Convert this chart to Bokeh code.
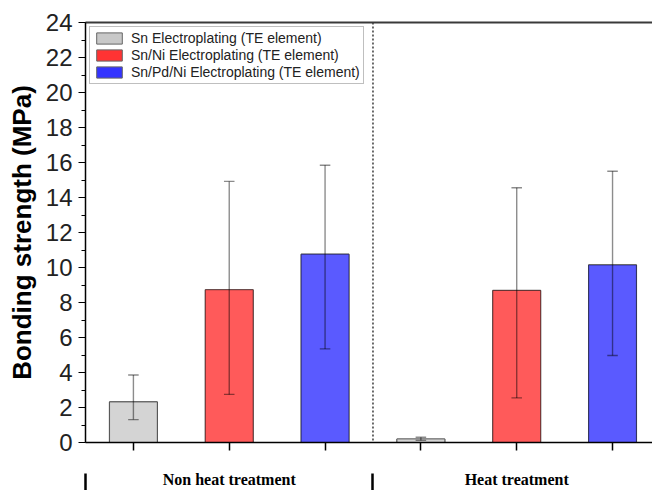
from bokeh.plotting import figure
from bokeh.models import (Range1d, LinearAxis, FixedTicker, SingleIntervalTicker,
                          Span, Legend, LegendItem, ColumnDataSource)
from bokeh.embed import file_html
from bokeh.resources import INLINE

# ---- data ----
groups = ["Non heat treatment", "Heat treatment"]
series = ["Sn Electroplating (TE element)",
          "Sn/Ni Electroplating (TE element)",
          "Sn/Pd/Ni Electroplating (TE element)"]
sn_mean = [2.32, 0.20]
sn_low = [1.31, 0.12]
sn_high = [3.86, 0.30]
snni_mean = [8.73, 8.69]
snni_low = [2.75, 2.55]
snni_high = [14.92, 14.56]
snpdni_mean = [10.76, 10.15]
snpdni_low = [5.35, 4.97]
snpdni_high = [15.84, 15.50]
y_min, y_max = 0, 24

bar_colors = ["#d4d4d4", "#ff5a5a", "#5a5aff"]
legend_colors = ["#c8c8c8", "#ff3333", "#3333ff"]

means = [sn_mean, snni_mean, snpdni_mean]
lows = [sn_low, snni_low, snpdni_low]
highs = [sn_high, snni_high, snpdni_high]

n_series = len(series)
positions = [g * n_series + s + 1 for g in range(len(groups)) for s in range(n_series)]

p = figure(width=652, height=490, output_backend="svg", toolbar_location=None,
           x_range=Range1d(0.5, 6.417), y_range=Range1d(y_min, y_max),
           x_axis_location=None, y_axis_location=None,
           min_border_left=85, min_border_top=22, min_border_right=0, min_border_bottom=0)
p.outline_line_color = None
p.background_fill_color = "white"
p.border_fill_color = "white"
for g in p.grid:
    g.visible = False

# y axis
yaxis = LinearAxis(ticker=SingleIntervalTicker(interval=2, num_minor_ticks=2),
                   axis_label="Bonding strength (MPa)",
                   axis_label_text_font="Liberation Sans",
                   axis_label_text_font_style="bold",
                   axis_label_text_font_size="26px",
                   axis_label_text_color="black",
                   axis_label_standoff=6,
                   major_label_text_font="Liberation Sans",
                   major_label_text_font_size="24px",
                   major_label_text_color="#222222",
                   major_label_standoff=6,
                   major_tick_in=0, major_tick_out=7,
                   minor_tick_in=0, minor_tick_out=4,
                   axis_line_width=1.5, axis_line_color="black",
                   major_tick_line_color="black", minor_tick_line_color="black")
p.add_layout(yaxis, "left")

# top border line
top = LinearAxis(ticker=FixedTicker(ticks=[]), axis_line_color="#3a3a3a", axis_line_width=2,
                 major_tick_line_color=None, minor_tick_line_color=None)
p.add_layout(top, "above")

# bottom axis with ticks under each bar
xa = LinearAxis(ticker=FixedTicker(ticks=positions),
                major_label_overrides={x: "" for x in positions},
                major_tick_in=0, major_tick_out=8,
                minor_tick_line_color=None, axis_line_width=1.5, axis_line_color="black",
                major_tick_line_width=1.5, major_tick_line_color="black")
p.add_layout(xa, "below")

# group label axis (separators as minor ticks, names as major labels)
seps = [0.5 + g * n_series for g in range(len(groups) + 1)]
centers = [g * n_series + (n_series + 1) / 2 for g in range(len(groups))]
xb = LinearAxis(ticker=FixedTicker(ticks=centers, minor_ticks=seps),
                major_label_overrides={c: gname for c, gname in zip(centers, groups)},
                axis_line_color=None, major_tick_line_color=None,
                major_tick_in=0, major_tick_out=0,
                minor_tick_in=-23, minor_tick_out=41,
                minor_tick_line_width=2.5, minor_tick_line_color="black",
                major_label_standoff=-21,
                major_label_text_font="Liberation Serif",
                major_label_text_font_style="bold",
                major_label_text_font_size="16px",
                major_label_text_color="black")
p.add_layout(xb, "below")

# group divider
p.add_layout(Span(location=seps[1], dimension="height", line_color="#3a3a3a",
                  line_width=1.5, line_dash="2 2"))

# bars
items = []
for s in range(n_series):
    xs = [g * n_series + s + 1 for g in range(len(groups))]
    src = ColumnDataSource(dict(x=xs, top=means[s], low=lows[s], high=highs[s],
                                x0=[x - 0.055 for x in xs], x1=[x + 0.055 for x in xs]))
    # legend swatch renderer (hidden under the real bars)
    swatch = p.vbar(x="x", top="top", bottom=0, width=0.5, source=src,
                    fill_color=legend_colors[s], line_color="#666666", line_width=1)
    p.vbar(x="x", top="top", bottom=0, width=0.5, source=src,
           fill_color=bar_colors[s], line_color="black", line_alpha=0.45, line_width=1.2)
    p.segment(x0="x", x1="x", y0="low", y1="high", source=src,
              line_color="black", line_alpha=0.45, line_width=1.4)
    p.segment(x0="x0", x1="x1", y0="high", y1="high", source=src,
              line_color="black", line_alpha=0.45, line_width=1.4)
    p.segment(x0="x0", x1="x1", y0="low", y1="low", source=src,
              line_color="black", line_alpha=0.45, line_width=1.4)
    items.append(LegendItem(label=series[s], renderers=[swatch]))

legend = Legend(items=items, location="top_left", margin=4, padding=3, spacing=1,
                glyph_width=32, glyph_height=14, label_height=14,
                label_standoff=6, label_text_font="Liberation Sans",
                label_text_font_size="14px", label_text_color="#222222",
                border_line_color="#808080", border_line_width=1.5,
                background_fill_color="white", background_fill_alpha=1)
p.add_layout(legend)

open("out.html", "w").write(file_html(p, INLINE))
